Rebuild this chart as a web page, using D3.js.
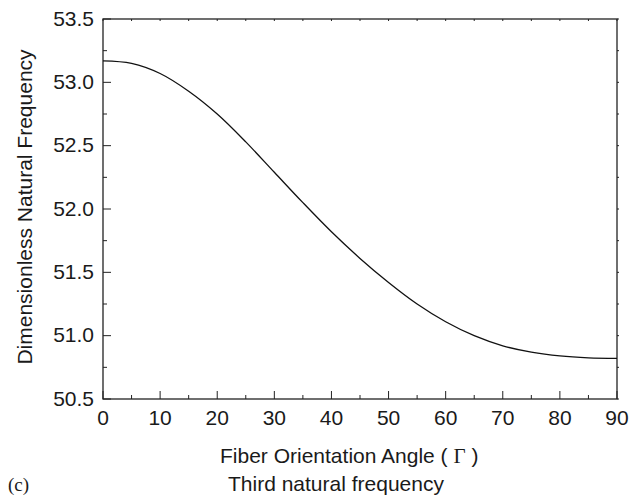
<!DOCTYPE html>
<html>
<head>
<meta charset="utf-8">
<script src="https://cdn.jsdelivr.net/npm/d3@7"></script>
<style>
  body { margin: 0; background: #fff; }
  text { font-family: "Liberation Sans", Arial, sans-serif; fill: #1a1a1a; }
</style>
</head>
<body>
<div id="chart"></div>
<script>
// fiber angle (deg) and third natural frequency
const angles = [0, 5, 10, 15, 20, 25, 30, 35, 40, 45, 50, 55, 60, 65, 70, 75, 80, 85, 90];
const freqs = [53.17, 53.15, 53.07, 52.93, 52.75, 52.53, 52.29, 52.05, 51.82, 51.61,
  51.42, 51.25, 51.11, 51.0, 50.92, 50.87, 50.84, 50.825, 50.82];
const xTicks = [0, 10, 20, 30, 40, 50, 60, 70, 80, 90];
const yTicks = [50.5, 51.0, 51.5, 52.0, 52.5, 53.0, 53.5];

const W = 630, H = 498;
const margin = { top: 19, right: 13, bottom: 99, left: 103 };
const width = W - margin.left - margin.right;
const height = H - margin.top - margin.bottom;
const fs = "21px";

const x = d3.scaleLinear().domain([0, 90]).range([0, width]);
const y = d3.scaleLinear().domain([50.5, 53.5]).range([height, 0]);

const svg = d3.select("#chart").append("svg")
  .attr("width", W).attr("height", H);
const g = svg.append("g").attr("transform", `translate(${margin.left},${margin.top})`);

// minor ticks every 5 / 0.25
const xMinor = d3.range(5, 90, 10);
const yMinor = d3.range(50.75, 53.5, 0.5);

const ticks = g.append("g").attr("stroke", "#222").attr("stroke-width", 1);
// bottom
ticks.selectAll(".xb").data(xTicks).join("line")
  .attr("x1", d => x(d)).attr("x2", d => x(d)).attr("y1", height).attr("y2", height - 8);
ticks.selectAll(".xbm").data(xMinor).join("line")
  .attr("x1", d => x(d)).attr("x2", d => x(d)).attr("y1", height).attr("y2", height - 4);
// left
ticks.selectAll(".yl").data(yTicks).join("line")
  .attr("y1", d => y(d)).attr("y2", d => y(d)).attr("x1", 0).attr("x2", 8);
ticks.selectAll(".ylm").data(yMinor).join("line")
  .attr("y1", d => y(d)).attr("y2", d => y(d)).attr("x1", 0).attr("x2", 4);
// top + right, tiny
ticks.selectAll(".xt").data(xTicks.concat(xMinor)).join("line")
  .attr("x1", d => x(d)).attr("x2", d => x(d)).attr("y1", 0).attr("y2", 2);
ticks.selectAll(".yr").data(yTicks.concat(yMinor)).join("line")
  .attr("y1", d => y(d)).attr("y2", d => y(d)).attr("x1", width).attr("x2", width + 2);

// frame
g.append("rect").attr("width", width).attr("height", height)
  .attr("fill", "none").attr("stroke", "#222").attr("stroke-width", 1.3);

// tick labels
g.selectAll(".xl").data(xTicks).join("text")
  .attr("x", d => x(d)).attr("y", height + 25.5)
  .attr("text-anchor", "middle").style("font-size", fs)
  .text(d => d);
g.selectAll(".yll").data(yTicks).join("text")
  .attr("x", -9).attr("y", d => y(d) + 6.5)
  .attr("text-anchor", "end").style("font-size", fs)
  .text(d => d.toFixed(1));

// the curve
const line = d3.line()
  .curve(d3.curveCatmullRom.alpha(0.5))
  .x((d, i) => x(angles[i]))
  .y(d => y(d));
g.append("path").datum(freqs)
  .attr("d", line)
  .attr("fill", "none").attr("stroke", "#111").attr("stroke-width", 1.3);

// axis titles
svg.append("text")
  .attr("transform", "translate(32,207) rotate(-90)")
  .attr("text-anchor", "middle").style("font-size", fs)
  .text("Dimensionless Natural Frequency");

const xt = svg.append("text")
  .attr("x", 220).attr("y", 463)
  .style("font-size", fs);
xt.append("tspan").text("Fiber Orientation Angle ( ");
xt.append("tspan").style("font-family", "'Liberation Serif', 'Times New Roman', serif").text("Γ");
xt.append("tspan").text(" )");

svg.append("text")
  .attr("x", 228).attr("y", 491)
  .style("font-size", fs)
  .text("Third natural frequency");

svg.append("text")
  .attr("x", 8).attr("y", 491)
  .style("font-family", "'Liberation Serif', 'Times New Roman', serif")
  .style("font-size", "19px")
  .text("(c)");
</script>
</body>
</html>
